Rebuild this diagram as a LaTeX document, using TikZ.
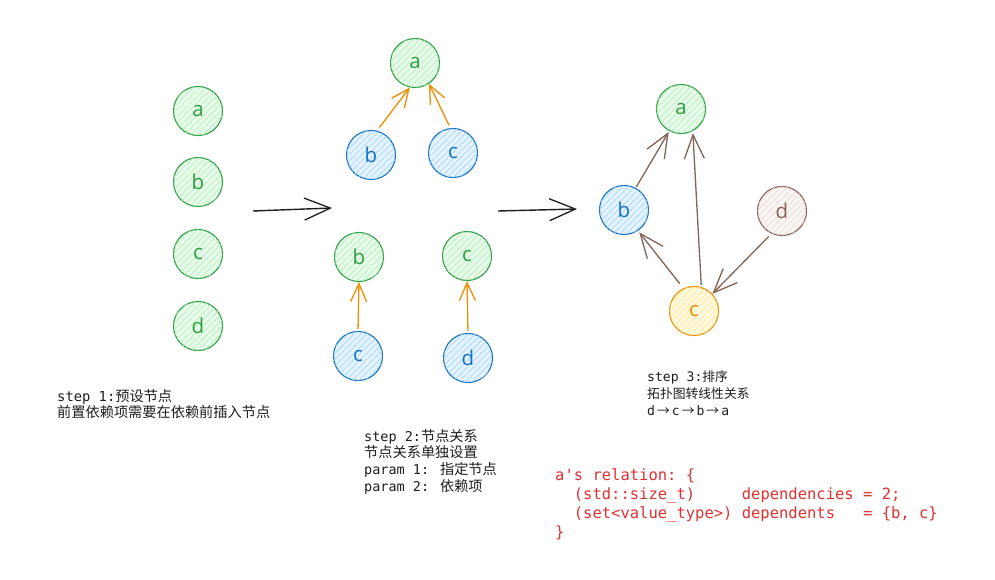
\documentclass[tikz,border=0pt]{standalone}
\usepackage{fontspec}
\setmainfont{Open Sans}
\newfontfamily\cjk{Noto Sans CJK SC}
\newfontfamily\mono{DejaVu Sans Mono}[Ligatures=TeXOff]
\usetikzlibrary{arrows.meta,patterns.meta}
\definecolor{gS}{HTML}{2F9E44}\definecolor{gF}{HTML}{B2F2BB}
\definecolor{bS}{HTML}{1971C2}\definecolor{bF}{HTML}{A5D8FF}
\definecolor{oS}{HTML}{F08C00}\definecolor{oF}{HTML}{FFEC99}
\definecolor{nS}{HTML}{846358}\definecolor{nF}{HTML}{EADDD7}
\definecolor{redT}{HTML}{E03131}
\definecolor{ink}{HTML}{1E1E1E}
\newcommand\mA{\mono\fontsize{13.8}{16}\selectfont}
\newcommand\cA{\cjk\fontsize{14.2}{16}\selectfont}
\newcommand\mB{\mono\fontsize{13.5}{16}\selectfont}
\newcommand\cB{\cjk\fontsize{14.2}{16}\selectfont}
\newcommand\mC{\mono\fontsize{13.1}{16}\selectfont}
\newcommand\cC{\cjk\fontsize{12.8}{16}\selectfont}
\newcommand\arr{\hspace{2pt}{\cC →}\hspace{2pt}}
\tikzset{
  vtx/.style={circle, minimum size=49pt, inner sep=0pt, line width=1.1pt,
    font=\fontsize{20.5}{20}\selectfont},
  hatch/.style={postaction={pattern={Lines[angle=45,distance=4.5pt,line width=0.7pt]}, pattern color=#1}},
  gnode/.style={vtx, draw=gS, text=gS, fill=gF!30, hatch=gF},
  bnode/.style={vtx, draw=bS, text=bS, fill=bF!30, hatch=bF},
  onode/.style={vtx, draw=oS, text=oS, fill=oF!30, hatch=oF},
  nnode/.style={vtx, draw=nS, text=nS, fill=nF!30, hatch=nF},
  bigarrow/.style={draw=ink, line width=1.4pt, -{Straight Barb[length=26pt,width=22pt,line width=1.3pt]}},
  oarrow/.style={draw=oS, line width=1.3pt, -{Straight Barb[length=18pt,width=16pt,line width=1.3pt]}},
  narrow/.style={draw=nS, line width=1.3pt, -{Straight Barb[length=24pt,width=20pt,line width=1.3pt]}},
  txt/.style={anchor=base west, inner sep=0pt, text=ink},
  code/.style={anchor=base west, inner sep=0pt, text=redT, font=\mono\fontsize{15.5}{18}\selectfont},
}
\begin{document}
\begin{tikzpicture}[x=1pt,y=-1pt]
\useasboundingbox[fill=white] (0,0) rectangle (995,580);

% step 1
\node[gnode] (a1) at (198,111) {a};
\node[gnode] (b1) at (198,182) {b};
\node[gnode] (c1) at (198,254) {c};
\node[gnode] (d1) at (198,326) {d};

% step 2
\node[gnode] (a2) at (415,63) {a};
\node[bnode] (b2) at (371,155) {b};
\node[bnode] (c2) at (453,153) {c};
\node[gnode] (b2g) at (359,257) {b};
\node[gnode] (c2g) at (467,256) {c};
\node[bnode] (c2b) at (358,356) {c};
\node[bnode] (d2b) at (468,358) {d};

\draw[oarrow, shorten <=4pt] (b2.76) -- (a2.258);
\draw[oarrow, shorten <=3pt] (c2.96) -- (a2.304);
\draw[oarrow, shorten <=2pt] (c2b.north) -- (b2g.south);
\draw[oarrow, shorten <=2pt] (d2b.north) -- (c2g.south);

% step 3
\node[gnode] (a3) at (681,109) {a};
\node[bnode] (b3) at (624,210) {b};
\node[nnode] (d3) at (782,211) {d};
\node[onode] (c3) at (694,311) {c};

\draw[narrow, shorten <=1pt, shorten >=1pt] (b3.62) -- (a3.242);
\draw[narrow, shorten <=2pt, shorten >=2pt] (c3.73) -- (a3.298);
\draw[narrow, shorten <=6pt, shorten >=2pt] (c3.115) -- (b3.304);
\draw[narrow, shorten <=4pt] (d3.245) -- (c3.43);

% big arrows
\coordinate (s1) at (253,211);
\coordinate (e1) at (332,208);
\coordinate (s2) at (498,211);
\coordinate (e2) at (577,209);
\draw[bigarrow] (s1) -- (e1);
\draw[bigarrow] (s2) -- (e2);

% texts
\node[txt] (t11) at (57,401) {{\mA step 1:}{\cA 预设节点}};
\node[txt] (t12) at (57,417) {{\cA 前置依赖项需要在依赖前插入节点}};

\node[txt] (t21) at (364,441) {{\mB step 2:}{\cB 节点关系}};
\node[txt] (t22) at (364,457) {{\cB 节点关系单独设置}};
\node[txt] (t23) at (364,474) {{\mB param 1: }{\cB 指定节点}};
\node[txt] (t24) at (364,491) {{\mB param 2: }{\cB 依赖项}};

\node[txt] (t31) at (647,381) {{\mC step 3:}{\cC 排序}};
\node[txt] (t32) at (647,398) {{\cC 拓扑图转线性关系}};
\node[txt] (t33) at (647,415) {{\mC d}\arr{\mC c}\arr{\mC b}\arr{\mC a}};

\node[code] (r1) at (555,480) {a's~relation:~\{};
\node[code] (r2) at (555,499) {~~(std::size\_t)~~~~~dependencies~=~2;};
\node[code] (r3) at (555,518) {~~(set<value\_type>)~dependents~~~=~\{b,~c\}};
\node[code] (r4) at (555,537) {\}};
\end{tikzpicture}
\end{document}
